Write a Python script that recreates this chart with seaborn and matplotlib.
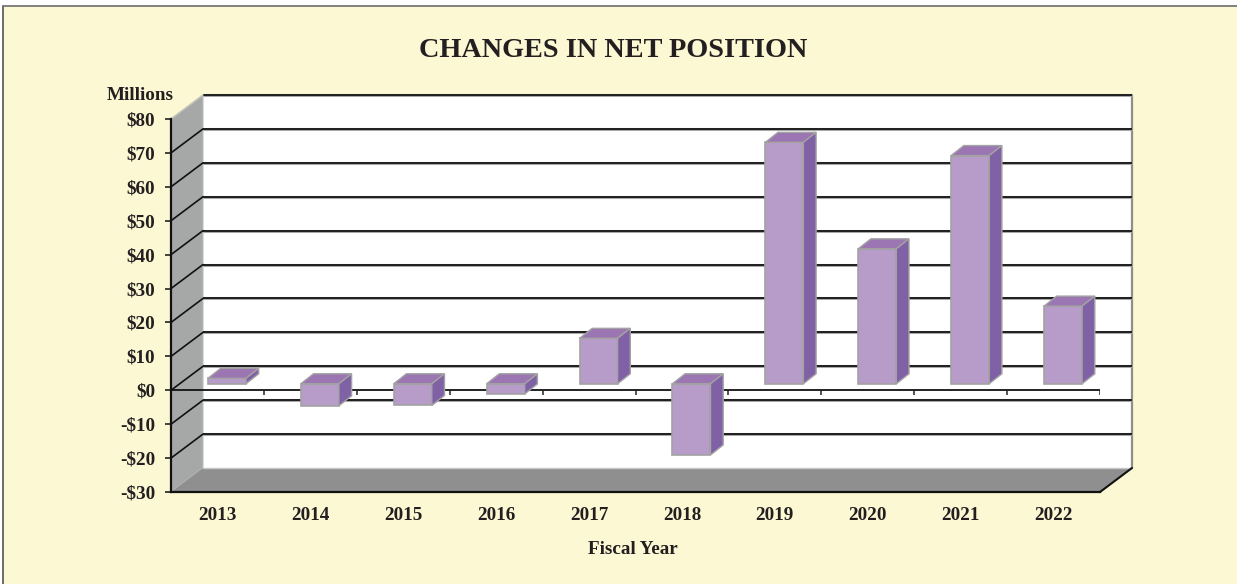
import matplotlib
matplotlib.use("Agg")
import matplotlib.pyplot as plt
from matplotlib.patches import Polygon, Rectangle
import numpy as np
import pandas as pd
import seaborn as sns

years = ["2013", "2014", "2015", "2016", "2017", "2018", "2019", "2020", "2021", "2022"]
net_change = [1.6, -6.5, -6.4, -3.0, 13.4, -21.0, 71.2, 39.8, 67.3, 22.9]
y_ticks = [80, 70, 60, 50, 40, 30, 20, 10, 0, -10, -20, -30]
y_labels = ["$80", "$70", "$60", "$50", "$40", "$30", "$20", "$10", "$0", "-$10", "-$20", "-$30"]

BG = "#FBF8D3"
FRONT = "#B79BC8"
TOP = "#9C76B2"
SIDE = "#8061A6"
EDGE = "#A3A3A3"
INK = "#231F20"

W, H = 1237, 584
sns.set_theme(style="white")
plt.rcParams["font.family"] = ["Liberation Serif", "DejaVu Serif"]
plt.rcParams["font.weight"] = "bold"

fig = plt.figure(figsize=(W / 100, H / 100), dpi=100, facecolor="white")
fig.add_artist(Rectangle((3 / W, 0), 1, 1 - 6 / H, transform=fig.transFigure, facecolor=BG,
                         edgecolor="none", zorder=-5))
L, R, T, B = 171, 1100, 119, 492
ax = fig.add_axes([L / W, 1 - B / H, (R - L) / W, (B - T) / H])
ax.patch.set_alpha(0)

df = pd.DataFrame({"year": years, "value": net_change})
sns.barplot(data=df, x="year", y="value", color=FRONT, saturation=1, width=0.41,
            ax=ax, zorder=6, edgecolor=EDGE, linewidth=1.2, errorbar=None)
ax.set_xlim(-0.5, 9.5)
ax.set_ylim(-30, 80)

ux = (R - L) / 10          # pixels per category
uy = (B - T) / 110         # pixels per $1M
wall_dx, wall_dy = 32 / ux, 24 / uy
off_dx, off_dy = 9.5 / ux, 6.5 / uy
dep_dx, dep_dy = 12.7 / ux, 10 / uy


def poly(pts, color, z, edge=None, lw=0):
    ax.add_patch(Polygon(pts, closed=True, facecolor=color, edgecolor=edge or color,
                         linewidth=lw, zorder=z, clip_on=False))


# walls and floor
ax.add_patch(Rectangle((-0.5 + wall_dx, -30 + wall_dy), 10, 110, facecolor="white",
                       edgecolor="none", zorder=0, clip_on=False))
poly([(-0.5, -30), (-0.5, 80), (-0.5 + wall_dx, 80 + wall_dy), (-0.5 + wall_dx, -30 + wall_dy)],
     "#A6A8A7", 1, "#BDBEBD", 0.8)
poly([(-0.5, -30), (9.5, -30), (9.5 + wall_dx, -30 + wall_dy), (-0.5 + wall_dx, -30 + wall_dy)],
     "#8F8F8F", 1)
ax.plot([9.5 + wall_dx] * 2, [-30 + wall_dy, 80 + wall_dy], color="#8E8E8E", lw=1.6, zorder=2, clip_on=False)
ax.plot([-0.5 + wall_dx, 9.5 + wall_dx], [-30 + wall_dy] * 2, color="#C8C8C8", lw=1, zorder=2, clip_on=False)

# gridlines on the back wall and left wall
for v in y_ticks:
    if v != -30:
        ax.plot([-0.5 + wall_dx, 9.5 + wall_dx], [v + wall_dy] * 2, color="#A8A8A8", lw=2.2,
                zorder=2, clip_on=False, solid_capstyle="butt")
        ax.plot([-0.5 + wall_dx, 9.5 + wall_dx], [v + wall_dy] * 2, color="#1A1A1A", lw=1.35,
                zorder=3, clip_on=False, solid_capstyle="butt")
    if v != 80 and v != -30:
        ax.plot([-0.5, -0.5 + wall_dx], [v, v + wall_dy], color="#111111", lw=1.2, zorder=3, clip_on=False)
ax.plot([-0.5, -0.5 + wall_dx], [80, 80 + wall_dy], color="#C4C4BC", lw=1, zorder=3, clip_on=False)
ax.plot([9.5, 9.5 + wall_dx], [-30, -30 + wall_dy], color="#111111", lw=1.5, zorder=3, clip_on=False)

# zero axis with its ticks at category boundaries
ax.plot([-0.5, 9.5], [0, 0], color="#111111", lw=1.3, zorder=4)
ax.vlines(np.arange(0.5, 10.0, 1.0), -5 / uy, 0, color="#222222", lw=1.1, zorder=4)

# bars: shift into the depth of the chart and add top and side faces
for p in ax.patches:
    if not (p.get_zorder() == 6 and isinstance(p, Rectangle)):
        continue
    p.set_x(p.get_x() + off_dx)
    p.set_y(p.get_y() + off_dy)
    x0, x1 = p.get_x(), p.get_x() + p.get_width()
    ya, yb = p.get_y(), p.get_y() + p.get_height()
    lo, hi = min(ya, yb), max(ya, yb)
    poly([(x0, hi), (x1, hi), (x1 + dep_dx, hi + dep_dy), (x0 + dep_dx, hi + dep_dy)], TOP, 7, EDGE, 1.0)
    poly([(x1, lo), (x1, hi), (x1 + dep_dx, hi + dep_dy), (x1 + dep_dx, lo + dep_dy)], SIDE, 7, EDGE, 1.0)

# axes styling
for s in ["top", "right"]:
    ax.spines[s].set_visible(False)
for s in ["left", "bottom"]:
    ax.spines[s].set_color("#111111")
    ax.spines[s].set_linewidth(1.6)
    ax.spines[s].set_zorder(5)
ax.set_yticks(y_ticks)
ax.set_yticklabels(y_labels, fontsize=13.8, fontweight="bold", color=INK)
ax.tick_params(axis="y", left=True, length=4, width=1.1, color="#111111", pad=7.5)
ax.tick_params(axis="x", bottom=False, length=0, pad=10.5, labelsize=13.8, labelcolor=INK)
for t in ax.get_xticklabels():
    t.set_fontweight("bold")
ax.set_xlabel("")
ax.set_ylabel("")

fig.text(613 / W, 1 - 50.5 / H, "CHANGES IN NET POSITION", ha="center", va="center",
         fontsize=20.3, fontweight="bold", color=INK)
fig.text(140 / W, 1 - 96 / H, "Millions", ha="center", va="center",
         fontsize=13.8, fontweight="bold", color=INK)
fig.text(632.5 / W, 1 - 549 / H, "Fiscal Year", ha="center", va="center",
         fontsize=13.8, fontweight="bold", color=INK)

# frame at top and left
fig.add_artist(plt.Line2D([3 / W, 3 / W], [0, 1 - 5.5 / H], color="#444444", lw=1.1))
fig.add_artist(plt.Line2D([3 / W, 1], [1 - 5.5 / H, 1 - 5.5 / H], color="#777777", lw=1.3))

fig.savefig("out.png", dpi=100, facecolor="white")
